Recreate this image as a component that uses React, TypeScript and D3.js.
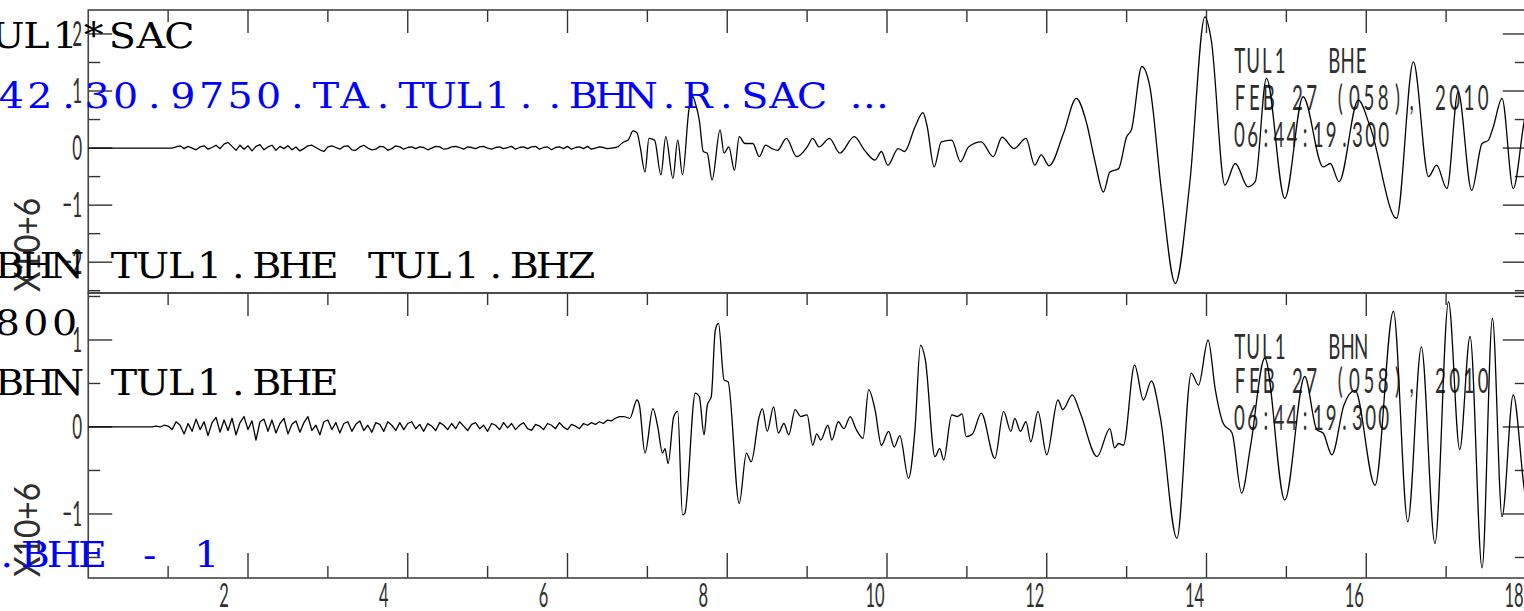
import React from "react";
import * as d3 from "d3";

const W = 1524;
const H = 611;

// Time axis (s) and tick values
const X_DOMAIN: [number, number] = [0, 18.01];
const X_TICKS = d3.range(1, 19);
const X_LABELS = [2, 4, 6, 8, 10, 12, 14, 16, 18];

// Amplitude ranges (x 10^6 counts)
const BHE_Y_DOMAIN: [number, number] = [-2.54, 2.42];
const BHN_Y_DOMAIN: [number, number] = [-1.736, 1.54];
const BHE_Y_LABELS = [2, 1, 0, -1, -2];
const BHN_Y_LABELS = [1, 0, -1];

// Pre-event noise, one value every 0.05 s
const NOISE_DT = 0.05;
const BHE_NOISE_T0 = 1.1;
const BHE_NOISE = [
  0.02, 0.04, -0.01, 0.03, 0.0, -0.03, 0.02, 0.04, -0.02, 0.01,
  0.05, -0.01, 0.07, 0.1, 0.03, -0.04, 0.05, -0.02, 0.04, -0.05,
  0.03, 0.06, -0.03, 0.02, 0.05, -0.04, 0.03, -0.01, 0.04, -0.03,
  0.02, -0.05, -0.01, 0.04, 0.05, 0.01, -0.03, -0.06, 0.02, 0.04,
  0.01, -0.02, 0.03, 0.04, -0.03, -0.04, 0.02, 0.05, 0.0, -0.03,
  -0.02, 0.03, 0.02, -0.04, -0.01, 0.04, 0.02, -0.02, 0.01, 0.02,
  -0.01, 0.02, 0.01, -0.03, 0.0, 0.03, 0.02, -0.02, -0.01, 0.02,
  0.03, 0.01, -0.02, 0.02, 0.01, -0.01, 0.02, 0.03, 0.0, -0.02,
  0.01, 0.02, -0.01, 0.01, 0.03, -0.02, 0.01, 0.02, -0.01, 0.02,
  0.03, -0.02, 0.01, 0.02, -0.03, 0.01, 0.02, -0.01, 0.03, -0.02,
  0.01, 0.02, -0.01, 0.03, -0.02, 0.0, 0.02, 0.01, -0.01, 0.0,
  0.01,
];
const BHN_NOISE_T0 = 0.8;
const BHN_NOISE = [
  0.0, 0.01, 0.0, 0.02, 0.01, -0.03, 0.06, 0.02, -0.08, 0.04,
  -0.05, 0.09, -0.03, 0.06, -0.1, 0.05, 0.11, -0.06, 0.08, -0.04,
  0.1, -0.09, 0.05, 0.12, -0.03, 0.07, -0.15, 0.06, 0.09, -0.05,
  0.08, -0.07, 0.04, 0.1, -0.08, 0.03, 0.07, -0.06, 0.05, 0.12,
  -0.04, 0.02, -0.09, 0.06, 0.08, -0.03, 0.05, -0.07, 0.04, 0.06,
  -0.05, 0.03, 0.07, -0.04, 0.02, -0.06, 0.05, 0.03, -0.05, 0.06,
  0.02, -0.04, 0.05, -0.03, 0.04, 0.06, -0.02, 0.03, -0.05, 0.04,
  0.01, -0.04, 0.05, 0.02, -0.03, 0.04, -0.02, 0.06, 0.01, -0.04,
  0.03, 0.05, -0.02, 0.02, -0.05, 0.04, 0.02, -0.03, 0.05, -0.01,
  0.04, -0.03, 0.02, 0.05, -0.02, -0.04, 0.03, 0.01, -0.03, 0.04,
  0.02, -0.02, 0.05, 0.0, -0.03, 0.03, 0.01, -0.02, 0.04, 0.02,
  0.05, 0.03, 0.06, 0.04, 0.08, 0.07, 0.1, 0.12,
];

// Event arrivals: [time s, amplitude]
const BHE_WAVE: [number, number][] = [
  [6.63, 0.02], [6.71, 0.11], [6.76, 0.14], [6.82, 0.3], [6.87, 0.27], [6.91, 0.02],
  [6.97, -0.42], [7.02, 0.17], [7.09, 0.14], [7.17, -0.47], [7.23, 0.2], [7.32, -0.53],
  [7.38, 0.14], [7.44, -0.47], [7.52, 0.67], [7.57, 0.9], [7.6, 0.79], [7.65, 0.49],
  [7.7, -0.06], [7.75, -0.09], [7.81, -0.56], [7.91, 0.32], [7.96, -0.09], [8.02, 0.02],
  [8.09, -0.39], [8.15, 0.2], [8.22, 0.08], [8.32, 0.08], [8.4, -0.15], [8.48, 0.05],
  [8.56, -0.01], [8.63, -0.04], [8.74, 0.17], [8.87, -0.15], [9.0, 0.02], [9.07, 0.17],
  [9.15, 0.02], [9.28, 0.17], [9.41, -0.09], [9.59, 0.2], [9.72, -0.04], [9.85, -0.21],
  [9.93, -0.06], [10.01, -0.3], [10.14, -0.01], [10.22, -0.06], [10.35, 0.37], [10.45, 0.62],
  [10.5, 0.4], [10.59, -0.33], [10.68, 0.11], [10.81, 0.14], [10.92, -0.24], [11.02, 0.02],
  [11.18, 0.11], [11.33, -0.15], [11.44, 0.19], [11.59, -0.01], [11.74, 0.17], [11.85, -0.3],
  [11.93, -0.12], [12.03, -0.31], [12.21, 0.26], [12.37, 0.87], [12.5, 0.43], [12.6, -0.21],
  [12.71, -0.77], [12.79, -0.42], [12.9, -0.36], [13.0, 0.2], [13.06, 0.32], [13.19, 1.43],
  [13.29, 1.08], [13.44, -0.8], [13.61, -2.37], [13.79, -0.62], [13.98, 2.3], [14.06, 1.89],
  [14.23, -0.65], [14.36, -0.27], [14.52, -0.68], [14.61, -0.59], [14.75, 1.22], [14.98, -0.88],
  [15.21, 0.9], [15.46, -0.33], [15.55, -0.27], [15.66, -0.59], [15.9, 0.84], [16.05, 0.37],
  [16.38, -1.23], [16.59, 1.51], [16.78, -0.5], [16.88, -0.3], [17.01, -0.71], [17.15, 0.99],
  [17.32, -0.74], [17.45, 0.08], [17.53, 0.14], [17.59, 0.37], [17.7, 0.87], [17.84, -0.71],
  [17.98, 0.49], [18.1, 1.1],
];
const BHN_WAVE: [number, number][] = [
  [6.71, 0.12], [6.78, 0.1], [6.87, 0.31], [6.9, 0.25], [6.97, -0.3], [7.07, 0.21],
  [7.13, 0.0], [7.19, -0.3], [7.22, -0.25], [7.26, -0.42], [7.33, 0.12], [7.38, 0.18],
  [7.44, -1.01], [7.47, -0.99], [7.6, 0.39], [7.65, 0.35], [7.71, -0.09], [7.75, 0.25],
  [7.8, 0.35], [7.85, 1.11], [7.89, 1.19], [7.96, 0.54], [8.01, 0.52], [8.15, -0.88],
  [8.24, -0.3], [8.3, -0.4], [8.4, 0.12], [8.44, 0.21], [8.5, -0.05], [8.58, 0.23],
  [8.64, -0.07], [8.71, 0.04], [8.77, -0.09], [8.85, 0.2], [8.92, 0.12], [9.0, 0.14],
  [9.07, -0.21], [9.12, -0.08], [9.17, -0.15], [9.26, 0.02], [9.31, -0.15], [9.39, 0.06],
  [9.46, -0.02], [9.54, 0.12], [9.61, -0.02], [9.7, -0.13], [9.77, 0.43], [9.85, 0.2],
  [9.93, -0.21], [10.02, -0.05], [10.09, -0.23], [10.16, -0.1], [10.27, -0.59], [10.35, -0.03],
  [10.42, 0.94], [10.48, 0.77], [10.6, -0.34], [10.66, -0.25], [10.71, -0.38], [10.81, 0.14],
  [10.88, 0.12], [10.94, 0.15], [10.99, -0.11], [11.07, -0.08], [11.18, 0.16], [11.35, -0.36],
  [11.46, 0.18], [11.55, -0.05], [11.6, 0.1], [11.67, -0.05], [11.74, 0.06], [11.8, -0.17],
  [11.89, 0.18], [12.0, -0.32], [12.14, 0.31], [12.2, 0.2], [12.32, 0.37], [12.42, 0.16],
  [12.63, -0.34], [12.79, -0.02], [12.85, -0.24], [12.9, -0.19], [12.96, -0.21], [13.1, 0.71],
  [13.21, 0.31], [13.31, 0.53], [13.42, 0.12], [13.63, -1.28], [13.81, 0.62], [13.9, 0.48],
  [14.02, 1.0], [14.11, 0.43], [14.21, 0.04], [14.32, -0.07], [14.44, -0.76], [14.55, -0.23],
  [14.73, 0.79], [14.98, -0.84], [15.23, 0.58], [15.38, -0.03], [15.46, -0.07], [15.57, -0.32],
  [15.72, 0.25], [15.86, 0.42], [16.11, -0.67], [16.34, 1.33], [16.52, -1.09], [16.69, 0.92],
  [16.86, -1.34], [17.03, 1.44], [17.17, -0.26], [17.3, 1.04], [17.45, -1.62], [17.58, 1.25],
  [17.7, -1.03], [17.84, 0.37], [17.98, -0.72], [18.1, -1.2],
];

// Trace headers
const BHE_HEADER = ["TUL1   BHE", "FEB 27 (058), 2010", "06:44:19.300"];
const BHN_HEADER = ["TUL1   BHN", "FEB 27 (058), 2010", "06:44:19.300"];
const Y_EXPONENT = "X10+6";

// Session text
const SESSION_LINE_1 = "UL1*SAC";
const SESSION_LINE_2 = "42.30.9750.TA.TUL1..BHN.R.SAC \u2026";
const SESSION_LINE_3 = "BHN TUL1.BHE TUL1.BHZ";
const SESSION_LINE_4 = "800";
const SESSION_LINE_5 = "BHN TUL1.BHE";
const SESSION_LINE_6 = ".BHE - 1";

const PLOT_FONT = "Lato, 'DejaVu Sans', sans-serif";
const TERM_FONT = "'DejaVu Serif', 'Liberation Serif', serif";
const INK = "#2e2e2e";

function noisePart(t0: number, noise: number[], firstWave: [number, number]): [number, number][] {
  const pts: [number, number][] = [[0, 0], [t0 - NOISE_DT, 0]];
  noise.forEach((v, i) => pts.push([t0 + i * NOISE_DT, v]));
  pts.push(firstWave);
  return pts;
}

// Fixed-pitch text: each character centred in its own cell
function CellText(props: {
  text: string; x0: number; y: number; cell: number; sx: number;
  size: number; family: string; fill: string; weight?: number;
}) {
  const { text, x0, y, cell, sx, size, family, fill, weight } = props;
  const xs = Array.from(text)
    .map((_, i) => ((x0 + (i + 0.5) * cell) / sx).toFixed(2))
    .join(" ");
  return (
    <text
      x={xs}
      y={y}
      transform={`scale(${sx},1)`}
      textAnchor="middle"
      fontFamily={family}
      fontSize={size}
      fontWeight={weight ?? 400}
      fill={fill}
      xmlSpace="preserve"
      style={{ whiteSpace: "pre" }}
    >
      {text}
    </text>
  );
}

type PanelProps = {
  id: string;
  top: number;
  bottom: number;
  yDomain: [number, number];
  yLabels: number[];
  noiseT0: number;
  noise: number[];
  wave: [number, number][];
  header: string[];
  headerBase: number[];
  expBase: number;
  bottomTicks: boolean;
  x: d3.ScaleLinear<number, number>;
};

function Panel(p: PanelProps) {
  const { x, top, bottom } = p;
  const y = d3.scaleLinear().domain(p.yDomain).range([bottom, top]);
  const left = x(X_DOMAIN[0]);
  const right = x(X_DOMAIN[1]);
  const jagged = d3
    .line<[number, number]>()
    .x((d) => x(d[0]))
    .y((d) => y(d[1]))
    .curve(d3.curveLinear);
  const smooth = d3
    .line<[number, number]>()
    .x((d) => x(d[0]))
    .y((d) => y(d[1]))
    .curve(d3.curveMonotoneX);
  const yTicks = d3.range(Math.ceil(p.yDomain[0] * 2) / 2, p.yDomain[1] + 1e-9, 0.5);
  const isMajor = (v: number) => Math.abs(v - Math.round(v)) < 1e-6;

  return (
    <g>
      <defs>
        <clipPath id={`clip-${p.id}`}>
          <rect x={left} y={top} width={right - left} height={bottom - top} />
        </clipPath>
      </defs>

      {/* ticks */}
      <g stroke="#333" strokeWidth={1.4}>
        {X_TICKS.map((t) => {
          const len = t % 2 === 0 ? 23 : 12;
          return <line key={`tt${t}`} x1={x(t)} x2={x(t)} y1={top} y2={top + len} />;
        })}
        {p.bottomTicks &&
          X_TICKS.map((t) => {
            const len = t % 2 === 0 ? 25 : 12;
            return <line key={`bt${t}`} x1={x(t)} x2={x(t)} y1={bottom} y2={bottom - len} />;
          })}
        {yTicks.map((v) => {
          const len = isMajor(v) ? 24 : 12;
          return (
            <g key={`yt${v}`}>
              <line x1={left} x2={left + len} y1={y(v)} y2={y(v)} />
              <line x1={right} x2={right - len} y1={y(v)} y2={y(v)} />
            </g>
          );
        })}
      </g>

      {/* frame */}
      <rect
        x={left}
        y={top}
        width={right - left}
        height={bottom - top}
        fill="none"
        stroke="#444"
        strokeWidth={1.6}
      />

      {/* amplitude labels */}
      {p.yLabels.map((v) => (
        <text
          key={`yl${v}`}
          x={82 / 0.5}
          y={y(v) + 12}
          transform="scale(0.5,1)"
          textAnchor="end"
          fontFamily={PLOT_FONT}
          fontWeight={400}
          fontSize={34}
          fill={INK}
        >
          {v < 0 ? `\u2212${Math.abs(v)}` : `${v}`}
        </text>
      ))}
      <text
        transform={`translate(40,${p.expBase}) rotate(-90)`}
        fontFamily={PLOT_FONT}
        fontWeight={400}
        fontSize={36}
        fill={INK}
        textLength={94}
        lengthAdjust="spacingAndGlyphs"
      >
        {Y_EXPONENT}
      </text>

      {/* header */}
      {p.header.map((s, i) => (
        <CellText
          key={`h${i}`}
          text={s}
          x0={1233}
          y={p.headerBase[i]}
          cell={[13.5, 14.3, 13.1][i]}
          sx={0.55}
          size={34}
          family={PLOT_FONT}
          weight={400}
          fill={INK}
        />
      ))}

      {/* seismogram */}
      <g fill="none" stroke="#000" strokeWidth={1.3} strokeLinejoin="round" clipPath={`url(#clip-${p.id})`}>
        <path d={jagged(noisePart(p.noiseT0, p.noise, p.wave[0])) ?? ""} />
        <path d={smooth(p.wave) ?? ""} />
      </g>
    </g>
  );
}

export default function App() {
  const x = d3.scaleLinear().domain(X_DOMAIN).range([88.25, 88.25 + X_DOMAIN[1] * 79.875]);
  const termSx = 1.1;

  return (
    <svg
      width={W}
      height={H}
      viewBox={`0 0 ${W} ${H}`}
      style={{ position: "absolute", left: 0, top: 0, background: "#fff", display: "block" }}
    >
      <rect x={0} y={0} width={W} height={H} fill="#fff" />
      <Panel
        id="bhe"
        top={10}
        bottom={293}
        yDomain={BHE_Y_DOMAIN}
        yLabels={BHE_Y_LABELS}
        noiseT0={BHE_NOISE_T0}
        noise={BHE_NOISE}
        wave={BHE_WAVE}
        header={BHE_HEADER}
        headerBase={[73, 110, 147]}
        expBase={292}
        bottomTicks={false}
        x={x}
      />
      <Panel
        id="bhn"
        top={293}
        bottom={578}
        yDomain={BHN_Y_DOMAIN}
        yLabels={BHN_Y_LABELS}
        noiseT0={BHN_NOISE_T0}
        noise={BHN_NOISE}
        wave={BHN_WAVE}
        header={BHN_HEADER}
        headerBase={[359, 393, 430]}
        expBase={577}
        bottomTicks={true}
        x={x}
      />

      {/* time labels */}
      {X_LABELS.map((t) => (
        <text
          key={`xl${t}`}
          x={(x(t) - (t < 10 ? 24 : 12)) / 0.5}
          y={607}
          transform="scale(0.5,1)"
          textAnchor="middle"
          fontFamily={PLOT_FONT}
          fontWeight={400}
          fontSize={33}
          fill={INK}
        >
          {t}
        </text>
      ))}

      {/* session text */}
      <CellText text={SESSION_LINE_1} x0={-6.4} y={48} cell={28.6} sx={termSx} size={36} family={TERM_FONT} fill="#000" />
      <CellText text={SESSION_LINE_2} x0={-3} y={108} cell={28.6} sx={termSx} size={36} family={TERM_FONT} fill="#0000ff" />
      <CellText text={SESSION_LINE_3} x0={-4.8} y={278} cell={28.6} sx={termSx} size={36} family={TERM_FONT} fill="#000" />
      <CellText text={SESSION_LINE_4} x0={-7} y={335} cell={28.6} sx={termSx} size={36} family={TERM_FONT} fill="#000" />
      <CellText text={SESSION_LINE_5} x0={-4.8} y={395} cell={28.6} sx={termSx} size={36} family={TERM_FONT} fill="#000" />
      <CellText text={SESSION_LINE_6} x0={-7.6} y={567} cell={28.6} sx={termSx} size={36} family={TERM_FONT} fill="#0000ff" />
    </svg>
  );
}
